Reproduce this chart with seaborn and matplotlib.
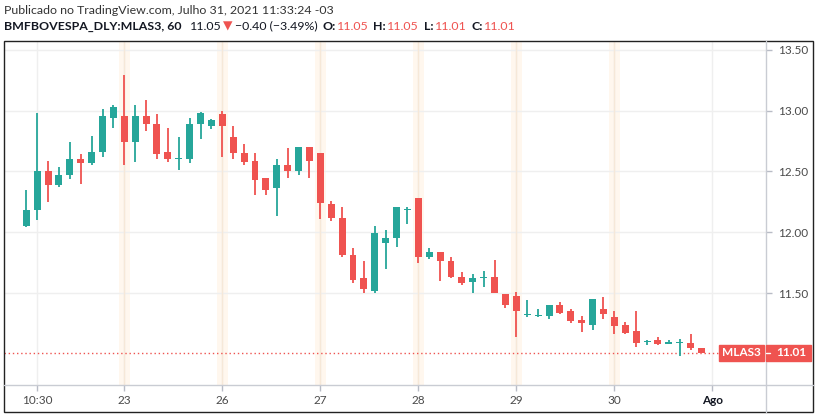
import numpy as np
import pandas as pd
import seaborn as sns
import matplotlib
matplotlib.use("Agg")
import matplotlib.pyplot as plt
from matplotlib.patches import Rectangle
from matplotlib.lines import Line2D

# ---------------- data (hourly candles, MLAS3) ----------------
opens = [12.05, 12.18, 12.50, 12.39, 12.47, 12.60, 12.57, 12.66, 12.94,
         12.96, 12.74, 12.96, 12.89, 12.66, 12.60, 12.60, 12.89, 12.87,
         12.97, 12.78, 12.65, 12.59, 12.45, 12.36, 12.55, 12.50, 12.70,
         12.65, 12.23, 12.12, 11.81, 11.62, 11.52, 11.91, 11.95, 12.18,
         12.28, 11.80, 11.84, 11.76, 11.63, 11.59, 11.62, 11.63, 11.49,
         11.48, 11.32, 11.31, 11.31, 11.40, 11.35, 11.28, 11.24, 11.37,
         11.30, 11.24, 11.19, 11.095, 11.11, 11.085, 11.09, 11.09, 11.05]
highs = [12.35, 12.98, 12.59, 12.54, 12.74, 12.64, 12.79, 13.01, 13.05,
         13.29, 13.05, 13.09, 12.97, 12.86, 12.78, 12.94, 12.99, 12.93,
         13.00, 12.87, 12.73, 12.65, 12.45, 12.60, 12.69, 12.70, 12.70,
         12.65, 12.26, 12.21, 11.87, 11.76, 12.05, 12.02, 12.21, 12.21,
         12.28, 11.87, 11.84, 11.80, 11.67, 11.66, 11.68, 11.77, 11.49,
         11.51, 11.44, 11.37, 11.40, 11.43, 11.37, 11.31, 11.45, 11.47,
         11.35, 11.26, 11.35, 11.11, 11.14, 11.11, 11.12, 11.16, 11.05]
lows = [12.04, 12.10, 12.25, 12.37, 12.44, 12.40, 12.55, 12.62, 12.86,
        12.55, 12.58, 12.83, 12.60, 12.58, 12.51, 12.57, 12.77, 12.85,
        12.62, 12.60, 12.55, 12.31, 12.31, 12.13, 12.45, 12.47, 12.45,
        12.11, 12.09, 11.80, 11.58, 11.50, 11.50, 11.70, 11.88, 12.07,
        11.75, 11.78, 11.60, 11.62, 11.57, 11.50, 11.55, 11.50, 11.38,
        11.14, 11.30, 11.30, 11.29, 11.33, 11.25, 11.18, 11.20, 11.29,
        11.16, 11.16, 11.06, 11.07, 11.07, 11.08, 10.98, 11.03, 11.01]
closes = [12.18, 12.50, 12.39, 12.47, 12.60, 12.57, 12.66, 12.96, 13.03,
          12.74, 12.96, 12.89, 12.64, 12.60, 12.61, 12.89, 12.98, 12.92,
          12.87, 12.65, 12.58, 12.43, 12.35, 12.55, 12.50, 12.70, 12.59,
          12.24, 12.12, 11.81, 11.61, 11.53, 11.99, 11.95, 12.21, 12.19,
          11.80, 11.84, 11.76, 11.63, 11.58, 11.62, 11.63, 11.50, 11.40,
          11.35, 11.33, 11.32, 11.40, 11.34, 11.27, 11.25, 11.45, 11.33,
          11.23, 11.17, 11.09, 11.10, 11.08, 11.09, 11.095, 11.05, 11.01]

tick_positions = [1, 9, 18, 27, 36, 45, 54, 63]
tick_labels = ["10:30", "23", "26", "27", "28", "29", "30", "Ago"]
session_starts = [9, 18, 27, 36, 45, 54]
price_ticks = [11.50, 12.00, 12.50, 13.00, 13.50]
last_price = 11.01
symbol = "MLAS3"

header_line1 = "Publicado no TradingView.com, Julho 31, 2021 11:33:24 -03"
ticker = "BMFBOVESPA_DLY:MLAS3, 60"
last_str = "11.05"
change_str = "\u22120.40 (\u22123.49%)"
ohlc_labels = ["O:", "H:", "L:", "C:"]
ohlc_values = ["11.05", "11.05", "11.01", "11.01"]

# ---------------- style ----------------
UP = "#26a69a"
DOWN = "#ef5350"
sns.set_theme(style="white")
plt.rcParams['font.family'] = ['Lato', 'DejaVu Sans']

df = pd.DataFrame({"open": opens, "high": highs, "low": lows, "close": closes})
df["idx"] = np.arange(len(df))
df["color"] = np.where(df["close"] >= df["open"], UP, DOWN)

W, H = 819, 416
fig = plt.figure(figsize=(W / 100, H / 100), dpi=100)
fig.patch.set_facecolor("white")


def fx(x):
    return x / W


def fy(y):
    return 1 - y / H


L, R, T, B = 4, 766, 41, 385
ax = fig.add_axes([fx(L), fy(B), (R - L) / W, (B - T) / H])
ax.set_facecolor("white")

x0_px, step_px = 26.3, 10.89
ax.set_xlim((L - x0_px) / step_px, (R - x0_px) / step_px)
ax.set_ylim(10.744, 13.573)

# grid
ax.set_axisbelow(True)
ax.grid(True, color="#efefef", lw=1)

# session highlights
for s in session_starts:
    ax.axvspan(s - 0.5, s + 0.5, color="#fff7ee", lw=0, zorder=0.5)
    ax.axvline(s, color="#f6e8d8", lw=1, zorder=0.6)

# candles
ax.vlines(df["idx"], df["low"], df["high"], colors=df["color"], lw=1.3, zorder=2)
body_lo = np.minimum(df["open"], df["close"])
body_h = np.maximum(np.abs(df["close"] - df["open"]), 0.009)
ax.bar(df["idx"], body_h, bottom=body_lo, width=0.64, color=df["color"],
       lw=0, zorder=3)

# last price dotted line
ax.axhline(last_price, xmin=0, xmax=(719 - L) / (R - L), color=DOWN,
           ls=(0, (1, 2)), lw=1, zorder=1.5)

# axes
for sp in ax.spines.values():
    sp.set_visible(False)
ax.yaxis.tick_right()
ax.set_yticks(price_ticks)
ax.set_yticklabels([f"{v:.2f}" for v in price_ticks])
ax.tick_params(axis="y", right=True, left=False, length=4, width=1,
               color="#b8bcc6", labelcolor="#4a4a4a", labelsize=8.5, pad=5)
ax.set_xticks(tick_positions)
ax.set_xticklabels(tick_labels)
ax.tick_params(axis="x", bottom=True, length=4, width=1, color="#b8bcc6",
               labelcolor="#4a4a4a", labelsize=8.5, pad=3)
xt = ax.get_xticklabels()
xt[-1].set_fontweight("bold")
xt[-1].set_color("#131722")

# frame and separators
fig.add_artist(Line2D([fx(R), fx(R)], [fy(T), fy(412)], color="#c9ccd3", lw=1,
                      transform=fig.transFigure))
fig.add_artist(Line2D([fx(L), fx(813)], [fy(B), fy(B)], color="#c9ccd3", lw=1,
                      transform=fig.transFigure))
fig.add_artist(Rectangle((fx(L), fy(412)), (813 - L) / W, (412 - T) / H,
                         fill=False, ec="#222222", lw=1,
                         transform=fig.transFigure))

# price labels
fig.canvas.draw()
ypix = ax.transData.transform((0, last_price))[1]
yc = ypix / H
bh = 16 / H
fig.add_artist(Rectangle((fx(719), yc - bh / 2), (764 - 719) / W, bh,
                         color=DOWN, transform=fig.transFigure, zorder=5))
fig.add_artist(Rectangle((fx(766), yc - bh / 2), (811 - 766) / W, bh,
                         color=DOWN, transform=fig.transFigure, zorder=5))
fig.text(fx(741.5), yc, symbol, color="white", fontsize=8.5, fontweight="bold",
         ha="center", va="center", zorder=6)
fig.add_artist(Line2D([fx(766), fx(770)], [yc, yc], color="white", lw=1,
                      transform=fig.transFigure, zorder=6))
fig.text(fx(791), yc, f"{last_price:.2f}", color="white", fontsize=8.5,
         fontweight="bold", ha="center", va="center", zorder=6)

# header
fig.text(fx(4), fy(10), header_line1, fontsize=8.9, color="#333333",
         va="center", ha="left")

renderer = fig.canvas.get_renderer()
pieces = [(ticker, "bold", "#131722", 0),
          (last_str, "normal", "#131722", 8),
          ("\u25BC", "normal", DOWN, 2),
          (change_str, "normal", "#131722", 2)]
for lab, val in zip(ohlc_labels, ohlc_values):
    pieces.append((lab, "bold", "#131722", 5))
    pieces.append((val, "normal", DOWN, 1))
xcur = 4
for txt, wt, col, gap in pieces:
    xcur += gap
    t = fig.text(fx(xcur), fy(26), txt, fontsize=8.9, fontweight=wt, color=col,
                 va="center", ha="left",
                 family=['Lato', 'DejaVu Sans'])
    bb = t.get_window_extent(renderer=renderer)
    xcur += bb.width

fig.savefig("out.png", dpi=100)
